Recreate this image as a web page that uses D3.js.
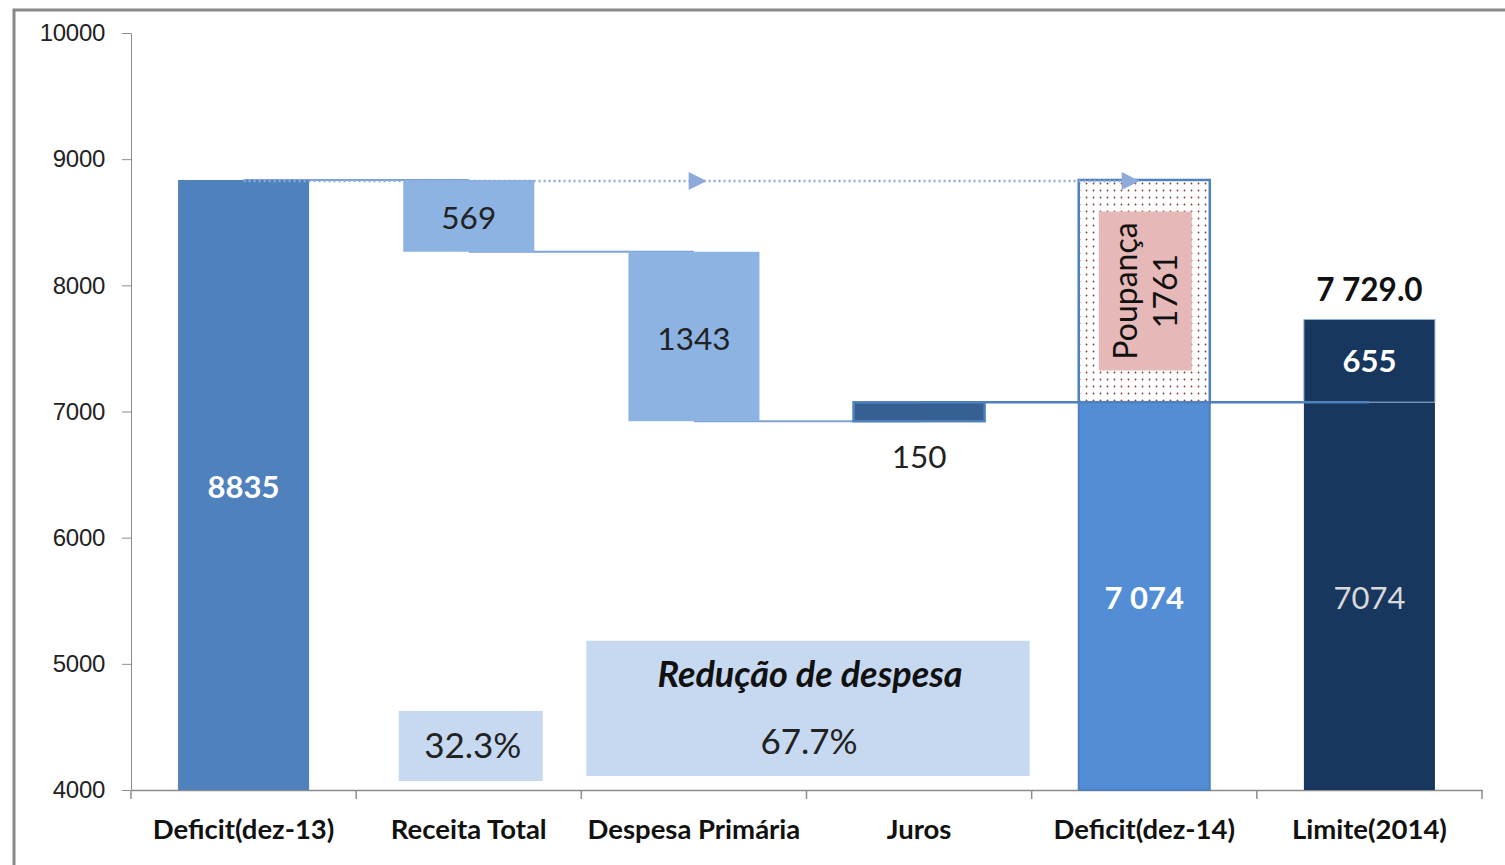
<!DOCTYPE html>
<html>
<head>
<meta charset="utf-8">
<script src="https://cdn.jsdelivr.net/npm/d3@7"></script>
<style>
  body { margin: 0; background: #fff; }
  svg text { font-family: Lato, "Open Sans", sans-serif; }
</style>
</head>
<body>
<svg id="chart" width="1505" height="865"></svg>
<script>
// Data
const categories = ["Deficit(dez-13)", "Receita Total", "Despesa Primária", "Juros", "Deficit(dez-14)", "Limite(2014)"];
const startDeficit = 8835;
const changes = [-569, -1343, 150];       // Receita, Despesa, Juros
const changeLabels = ["569", "1343", "150"];
const endDeficit = 7074;
const poupanca = 1761;
const limiteBase = 7074;
const limiteExtra = 655;
const limiteTotalLabel = "7 729.0";
const yTicks = [4000, 5000, 6000, 7000, 8000, 9000, 10000];
const shareLabels = ["32.3%", "67.7%"];

const svg = d3.select("#chart");

// Frame
svg.append("rect")
    .attr("x", 14).attr("y", 10)
    .attr("width", 1500).attr("height", 880)
    .attr("fill", "none")
    .attr("stroke", "#898989")
    .attr("stroke-width", 3);

const margin = { left: 131, top: 33 };
const width = 1351;
const height = 757;

const g = svg.append("g").attr("transform", `translate(${margin.left},${margin.top})`);

const x = d3.scaleBand().domain(categories).range([0, width]).paddingInner(0.418).paddingOuter(0.209);
const band = d3.scaleBand().domain(categories).range([0, width]);
const y = d3.scaleLinear().domain([4000, 10000]).range([height, 0]);

// pattern for poupança
const defs = svg.append("defs");
const pat = defs.append("pattern")
    .attr("id", "dots").attr("width", 7).attr("height", 7)
    .attr("patternUnits", "userSpaceOnUse");
pat.append("rect").attr("width", 7).attr("height", 7).attr("fill", "#fff");
pat.append("circle").attr("cx", 3.5).attr("cy", 3.5).attr("r", 0.9).attr("fill", "#8b3a3a");

// Y axis
const yAxis = g.append("g")
    .call(d3.axisLeft(y).tickValues(yTicks).tickSize(9).tickPadding(17).tickFormat(d => d));
yAxis.select(".domain").attr("stroke", "#8c8c8c").attr("d", `M-9,0.5H0.5V${height}`);
yAxis.selectAll(".tick line").attr("stroke", "#8c8c8c");
yAxis.selectAll(".tick text").attr("font-size", 24).attr("fill", "#222")
    .style("font-family", "'Liberation Sans', Arial, sans-serif").style("letter-spacing", "-0.3px");

// X axis
const xAxis = g.append("g")
    .attr("transform", `translate(0,${height})`)
    .call(d3.axisBottom(band).tickSize(0).tickPadding(29));
xAxis.select(".domain").attr("stroke", "#8c8c8c").attr("stroke-width", 1.5);
xAxis.selectAll(".tick text").attr("font-size", 27.5).attr("font-weight", "bold").attr("fill", "#111");
// category separators
g.append("g").selectAll("line")
    .data(d3.range(categories.length + 1))
    .join("line")
    .attr("x1", i => i * band.step()).attr("x2", i => i * band.step())
    .attr("y1", height).attr("y2", height + 9)
    .attr("stroke", "#8c8c8c").attr("stroke-width", 1.5);

// waterfall steps
const levels = [startDeficit];
changes.forEach(c => levels.push(levels[levels.length - 1] + c));

const cx = c => x(c) + x.bandwidth() / 2;

// connector lines (drawn beneath bars)
const connectors = [
    { from: 0, to: 1, v: levels[0] },
    { from: 1, to: 2, v: levels[1] },
    { from: 2, to: 3, v: levels[2] },
    { from: 3, to: 5, v: endDeficit }
];
g.append("g").selectAll("line")
    .data(connectors)
    .join("line")
    .attr("x1", d => cx(categories[d.from]))
    .attr("x2", d => cx(categories[d.to]))
    .attr("y1", d => y(d.v)).attr("y2", d => y(d.v))
    .attr("stroke", d => d.to === 5 ? "#4f81bd" : "#7da2d6")
    .attr("stroke-width", d => d.to === 5 ? 2.5 : 2);

// first bar
g.append("rect")
    .attr("x", x(categories[0])).attr("width", x.bandwidth())
    .attr("y", y(startDeficit)).attr("height", y(4000) - y(startDeficit))
    .attr("fill", "#4f81bd");

// change bars
const changeColors = ["#8db3e2", "#8db3e2", "#366092"];
const changeBars = changes.map((c, i) => ({
    cat: categories[i + 1],
    lo: Math.min(levels[i], levels[i + 1]),
    hi: Math.max(levels[i], levels[i + 1]),
    color: changeColors[i],
    label: changeLabels[i]
}));
g.append("g").selectAll("rect")
    .data(changeBars)
    .join("rect")
    .attr("x", d => x(d.cat)).attr("width", x.bandwidth())
    .attr("y", d => y(d.hi)).attr("height", d => y(d.lo) - y(d.hi))
    .attr("fill", d => d.color)
    .attr("stroke", (d, i) => i === 2 ? "#4f81bd" : "none")
    .attr("stroke-width", 2.5);

// Deficit(dez-14)
const c4 = categories[4];
g.append("rect")
    .attr("x", x(c4)).attr("width", x.bandwidth())
    .attr("y", y(endDeficit)).attr("height", y(4000) - y(endDeficit))
    .attr("fill", "#538dd5").attr("stroke", "#4f81bd").attr("stroke-width", 2);
g.append("rect")
    .attr("x", x(c4)).attr("width", x.bandwidth())
    .attr("y", y(endDeficit + poupanca)).attr("height", y(endDeficit) - y(endDeficit + poupanca))
    .attr("fill", "url(#dots)").attr("stroke", "#4f81bd").attr("stroke-width", 2.5);

// Limite(2014)
const c5 = categories[5];
g.append("rect")
    .attr("x", x(c5)).attr("width", x.bandwidth())
    .attr("y", y(limiteBase)).attr("height", y(4000) - y(limiteBase))
    .attr("fill", "#17375e");
g.append("rect")
    .attr("x", x(c5)).attr("width", x.bandwidth())
    .attr("y", y(limiteBase + limiteExtra)).attr("height", y(limiteBase) - y(limiteBase + limiteExtra))
    .attr("fill", "#17375e").attr("stroke", "#95b3d7").attr("stroke-width", 1);
g.append("line")
    .attr("x1", x(c5)).attr("x2", cx(c5))
    .attr("y1", y(endDeficit)).attr("y2", y(endDeficit))
    .attr("stroke", "#4f81bd").attr("stroke-width", 2.5);

// dotted line with arrows at start level
const arrowY = y(startDeficit) + 1;
g.append("line")
    .attr("x1", cx(categories[0])).attr("x2", x(c4) + x.bandwidth() * 0.45)
    .attr("y1", arrowY).attr("y2", arrowY)
    .attr("stroke", "#8eaadb").attr("stroke-width", 2.5)
    .attr("stroke-dasharray", "2,3");
const arrowXs = [(cx(categories[2]) + x(categories[2]) + x.bandwidth()) / 2 - 22, x(c4) + x.bandwidth() * 0.45];
g.append("g").selectAll("path")
    .data(arrowXs)
    .join("path")
    .attr("d", d => `M${d - 16},${arrowY - 9}L${d + 2},${arrowY}L${d - 16},${arrowY + 9}Z`)
    .attr("fill", "#8eaadb");

// labels
g.append("text")
    .attr("x", cx(categories[0])).attr("y", y((startDeficit + 4000) / 2) + 2)
    .attr("dy", "0.35em").attr("text-anchor", "middle")
    .attr("font-size", 31).attr("font-weight", "bold").attr("fill", "#fff")
    .text(startDeficit);

g.append("g").selectAll("text")
    .data(changeBars)
    .join("text")
    .attr("x", d => cx(d.cat))
    .attr("y", (d, i) => i === 2 ? y(d.lo) + 36 : y((d.lo + d.hi) / 2) + 2)
    .attr("dy", "0.35em").attr("text-anchor", "middle")
    .attr("font-size", 31.5).attr("fill", "#222")
    .text(d => d.label);

g.append("text")
    .attr("x", cx(c4)).attr("y", y(5524))
    .attr("dy", "0.35em").attr("text-anchor", "middle")
    .attr("font-size", 31).attr("font-weight", "bold").attr("fill", "#fff")
    .text("7 074");

g.append("text")
    .attr("x", cx(c5)).attr("y", y(5524))
    .attr("dy", "0.35em").attr("text-anchor", "middle")
    .attr("font-size", 31).attr("fill", "#d9d9d9")
    .text(limiteBase);

g.append("text")
    .attr("x", cx(c5)).attr("y", y(limiteBase + limiteExtra / 2))
    .attr("dy", "0.35em").attr("text-anchor", "middle")
    .attr("font-size", 31).attr("font-weight", "bold").attr("fill", "#fff")
    .text(limiteExtra);

g.append("text")
    .attr("x", cx(c5)).attr("y", y(limiteBase + limiteExtra) - 30)
    .attr("dy", "0.35em").attr("text-anchor", "middle")
    .attr("font-size", 31.5).attr("font-weight", "bold").attr("fill", "#111")
    .text(limiteTotalLabel);

// Poupança label box
const pBoxTop = y(8585), pBoxBot = y(7325);
const pBoxX0 = x(c4) + 20, pBoxX1 = x(c4) + x.bandwidth() - 18;
g.append("rect")
    .attr("x", pBoxX0).attr("y", pBoxTop)
    .attr("width", pBoxX1 - pBoxX0).attr("height", pBoxBot - pBoxTop)
    .attr("fill", "#e6b9b8");
const pt = g.append("text")
    .attr("transform", `translate(${(pBoxX0 + pBoxX1) / 2 + 2},${(pBoxTop + pBoxBot) / 2}) rotate(-90)`)
    .attr("text-anchor", "middle")
    .attr("font-size", 32).attr("fill", "#111");
pt.append("tspan").attr("x", 0).attr("dy", "-0.32em").text("Poupança");
pt.append("tspan").attr("x", 0).attr("dy", "1.25em").text(poupanca);

// share boxes
const b1 = categories[1];
g.append("rect")
    .attr("x", cx(b1) - 70).attr("width", 144)
    .attr("y", y(4627)).attr("height", y(4071) - y(4627))
    .attr("fill", "#c6d9f1");
g.append("text")
    .attr("x", cx(b1) + 4).attr("y", y(4349))
    .attr("dy", "0.35em").attr("text-anchor", "middle")
    .attr("font-size", 35).attr("fill", "#222")
    .text(shareLabels[0]);

const rx0 = band(categories[2]) + 5, rx1 = band(categories[3]) + band.bandwidth() - 2;
g.append("rect")
    .attr("x", rx0).attr("width", rx1 - rx0)
    .attr("y", y(5183)).attr("height", y(4111) - y(5183))
    .attr("fill", "#c6d9f1");
g.append("text")
    .attr("x", (rx0 + rx1) / 2 + 2).attr("y", y(4915))
    .attr("dy", "0.35em").attr("text-anchor", "middle")
    .attr("font-size", 36).attr("font-weight", "bold").attr("font-style", "italic").attr("fill", "#111")
    .text("Redução de despesa");
g.append("text")
    .attr("x", (rx0 + rx1) / 2 + 1).attr("y", y(4385))
    .attr("dy", "0.35em").attr("text-anchor", "middle")
    .attr("font-size", 35).attr("fill", "#222")
    .text(shareLabels[1]);
</script>
</body>
</html>
